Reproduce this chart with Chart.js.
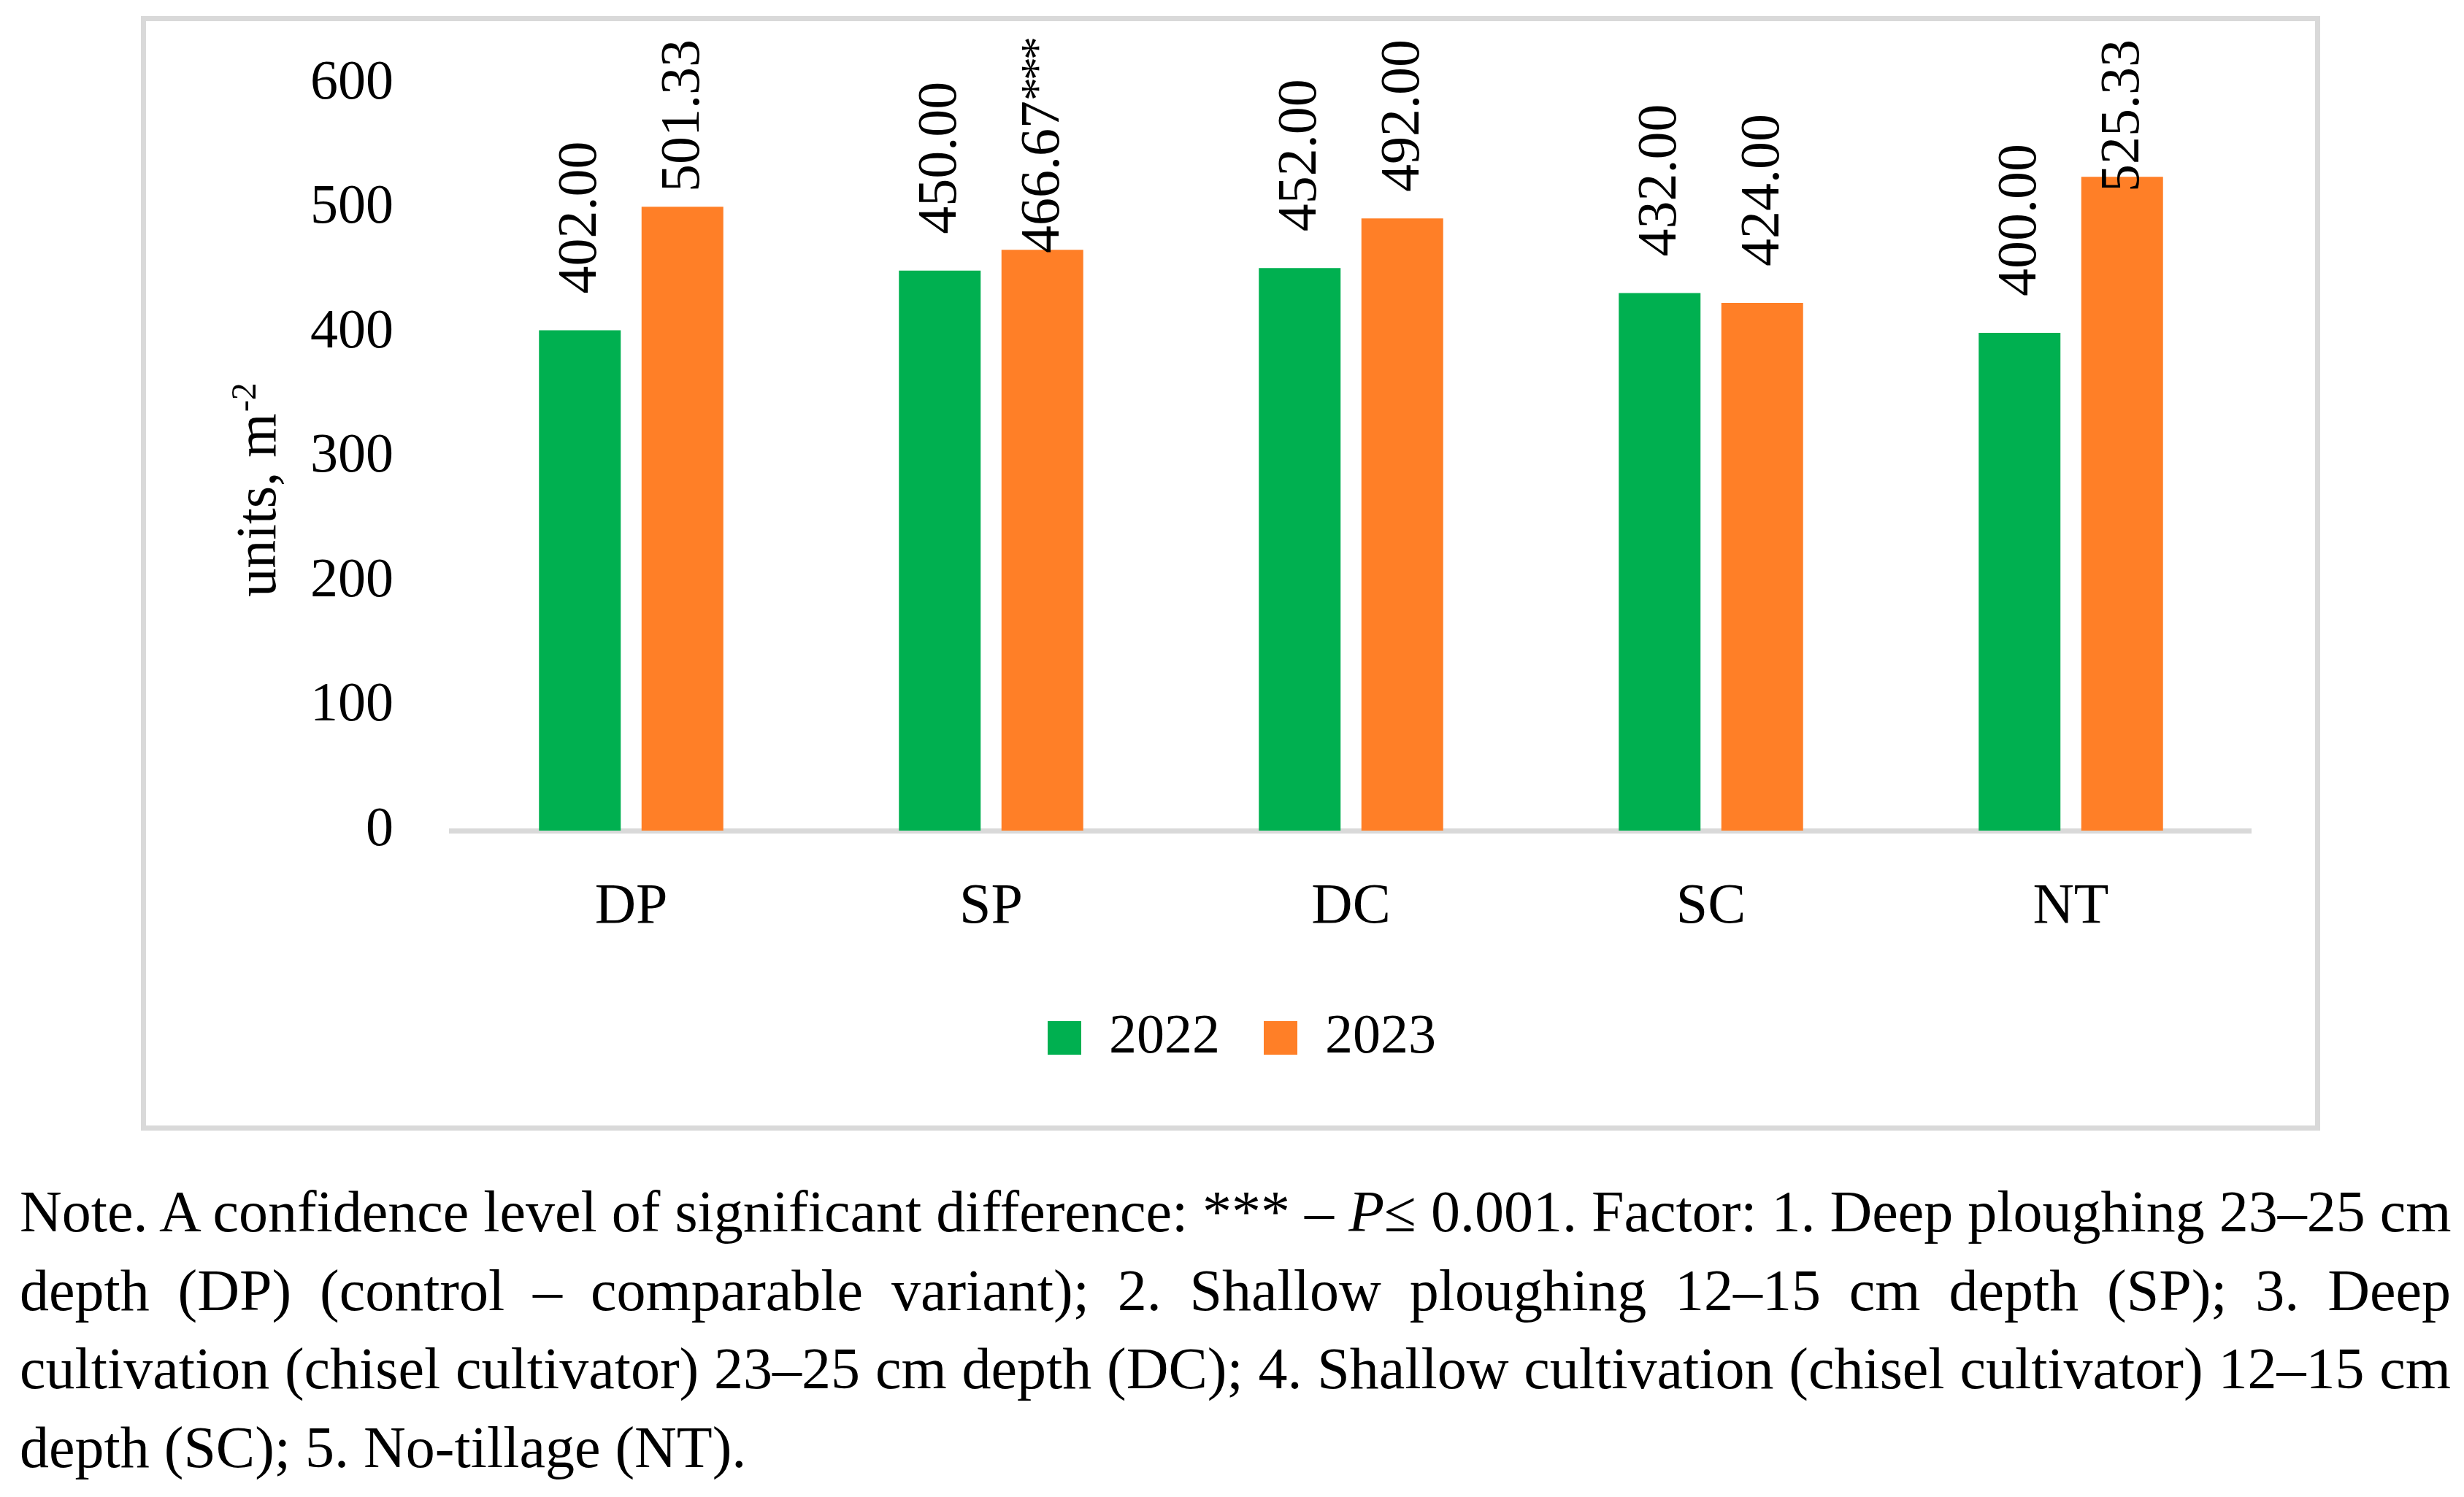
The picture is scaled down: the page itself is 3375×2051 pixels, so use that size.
<!DOCTYPE html>
<html>
<head>
<meta charset="utf-8">
<script src="https://cdn.jsdelivr.net/npm/chart.js@4.4.1/dist/chart.umd.min.js"></script>
<style>
  html, body { margin: 0; padding: 0; background: #fff; }
  body { width: 3375px; height: 2051px; position: relative; overflow: hidden; }
  #frame {
    position: absolute; left: 193px; top: 22px;
    width: 2985px; height: 1527px; box-sizing: border-box;
    border: 7px solid #d9d9d9; background: #fff;
  }
  #myChart { display: block; }
  #note {
    position: absolute; left: 27px; top: 1607px; width: 3330px;
    font-family: "Liberation Serif", "Times New Roman", serif;
    font-size: 80px; line-height: 107.6px; color: #000;
  }
  #note div { text-align: justify; text-align-last: justify; white-space: nowrap; }
  #note div.last { text-align-last: left; }
</style>
</head>
<body>
<div id="frame"><canvas id="myChart" width="2971" height="1513"></canvas></div>
<div id="note">
  <div>Note. A confidence level of significant difference: *** – <i>P</i>≤ 0.001. Factor: 1. Deep ploughing 23–25 cm</div>
  <div>depth (DP) (control – comparable variant); 2. Shallow ploughing 12–15 cm depth (SP); 3. Deep</div>
  <div>cultivation (chisel cultivator) 23–25 cm depth (DC); 4. Shallow cultivation (chisel cultivator) 12–15 cm</div>
  <div class="last">depth (SC); 5. No-tillage (NT).</div>
</div>
<script>
const categories = ['DP', 'SP', 'DC', 'SC', 'NT'];
const values2022 = [402, 450, 452, 432, 400];
const values2023 = [501.33, 466.67, 492, 424, 525.33];
const marks2022  = ['', '', '', '', ''];
const marks2023  = ['', '***', '', '', ''];
const yTicks = [0, 100, 200, 300, 400, 500, 600];

const serif = '"Liberation Serif", "Times New Roman", serif';

// value labels, rotated, sitting above each bar (kept inside the plot top)
const barLabels = {
  id: 'barLabels',
  afterDatasetsDraw(chart) {
    const ctx = chart.ctx;
    const marks = [marks2022, marks2023];
    const starStep = 28; // asterisks sit tight in the original
    ctx.save();
    ctx.fillStyle = '#000';
    ctx.textAlign = 'left';
    ctx.textBaseline = 'middle';
    chart.data.datasets.forEach((ds, i) => {
      chart.getDatasetMeta(i).data.forEach((bar, j) => {
        const num = ds.data[j].toFixed(2);
        const mark = marks[i][j];
        ctx.font = '76px ' + serif;
        const wNum = ctx.measureText(num).width;
        const w = wNum + mark.length * starStep;
        let start = bar.y - 50;
        if (start - w < 25) start = 25 + w;
        ctx.save();
        ctx.translate(bar.x + 2, start);
        ctx.rotate(-Math.PI / 2);
        ctx.fillText(num, 0, 0);
        ctx.font = '64px ' + serif;
        for (let k = 0; k < mark.length; k++) {
          ctx.fillText(mark[k], wNum + k * starStep, -5);
        }
        ctx.restore();
      });
    });
    ctx.restore();
  }
};

// y axis title with a real superscript
const yTitle = {
  id: 'yTitle',
  afterDraw(chart) {
    const ctx = chart.ctx;
    const main = 'units, m';
    const sup = '-2';
    ctx.save();
    ctx.fillStyle = '#000';
    ctx.textBaseline = 'alphabetic';
    ctx.textAlign = 'left';
    ctx.font = '78px ' + serif;
    const w1 = ctx.measureText(main).width;
    ctx.font = '48px ' + serif;
    const w2 = ctx.measureText(sup).width;
    ctx.translate(177, 643);
    ctx.rotate(-Math.PI / 2);
    const a0 = -(w1 + w2) / 2;
    ctx.font = '78px ' + serif;
    ctx.fillText(main, a0, 0);
    ctx.font = '48px ' + serif;
    ctx.fillText(sup, a0 + w1 + 2, -27);
    ctx.restore();
  }
};

let ctx = document.getElementById('myChart').getContext('2d');
let chart = new Chart(ctx, {
  type: 'bar',
  data: {
    labels: categories,
    datasets: [{
      label: '2022',
      data: values2022,
      backgroundColor: '#00B050',
      borderWidth: 0,
    }, {
      label: '2023',
      data: values2023,
      backgroundColor: '#FF7F27',
      borderWidth: 0,
    }]
  },
  plugins: [barLabels, yTitle],
  options: {
    responsive: false,
    animation: false,
    devicePixelRatio: 1,
    categoryPercentage: 0.57,
    barPercentage: 0.797,
    layout: { padding: { left: 119, right: 88, top: 86, bottom: 72 } },
    plugins: {
      tooltip: { enabled: false },
      legend: {
        position: 'bottom',
        labels: {
          boxWidth: 46,
          boxHeight: 46,
          padding: 60,
          color: '#000',
          font: { family: serif, size: 76 },
        }
      }
    },
    scales: {
      x: {
        grid: { display: false, drawTicks: false },
        border: { display: true, color: '#d9d9d9', width: 7 },
        ticks: { color: '#000', padding: 59, font: { family: serif, size: 78 } },
        afterFit(scale) { scale.height = 186; }
      },
      y: {
        min: 0,
        max: 600,
        grid: { display: false, drawTicks: false },
        border: { display: false },
        afterBuildTicks(scale) { scale.ticks = yTicks.map(v => ({ value: v })); },
        ticks: { color: '#000', padding: 79, font: { family: serif, size: 76 } },
        afterFit(scale) {
          scale.width = 299;
          scale.paddingTop = 0;
          scale.paddingBottom = 0;
        }
      }
    }
  }
});
</script>
</body>
</html>
